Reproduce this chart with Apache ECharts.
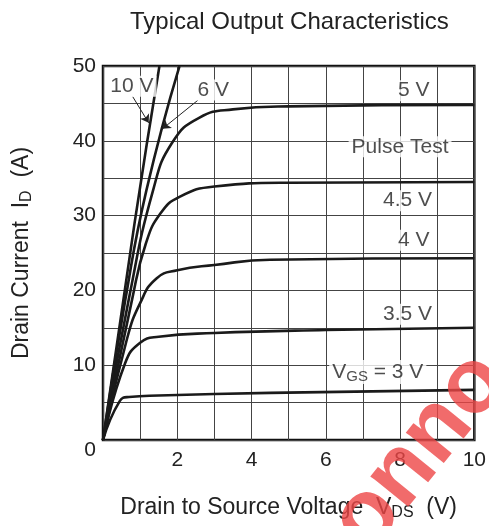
<!DOCTYPE html>
<html>
<head>
<meta charset="utf-8">
<script src="https://cdn.jsdelivr.net/npm/echarts@6/dist/echarts.min.js"></script>
<style>
  html, body { margin: 0; padding: 0; background: #fff; }
  #main { width: 489px; height: 526px; }
</style>
</head>
<body>
<div id="main"></div>
<script>
// VGS curves, [VDS (V), ID (A)]
var vgs3  = [[0,0],[0.45,5.2],[0.7,5.75],[1.5,5.95],[4.5,6.3],[10,6.7]];
var vgs35 = [[0,0],[0.59,10.2],[1,13],[1.5,13.8],[3,14.3],[6,14.7],[10,15]];
var vgs4  = [[0,0],[0.64,13.4],[1,18.3],[1.44,21.6],[2,22.7],[3,23.4],[4.5,24.1],[10,24.3]];
var vgs45 = [[0,0],[0.78,18.7],[1.15,26.2],[1.55,30.3],[2.06,32.5],[3,33.9],[5,34.4],[10,34.5]];
var vgs5  = [[0,0],[0.69,18.7],[1.35,33.4],[1.87,39.8],[2.6,43.1],[3.5,44.2],[5,44.6],[10,44.8]];
var vgs6  = [[0,0],[0.6,18.7],[1.17,33.4],[2.06,50]];
var vgs10 = [[0,0],[0.85,29],[1.52,50]];

// curve labels
var labelText = ['10 V', '6 V', '5 V', 'Pulse Test', '4.5 V', '4 V', '3.5 V', '{v|V}{s|GS}{v| = 3 V}'];
var labelX    = [0.78, 2.97, 8.37, 8.0, 8.2, 8.37, 8.2, 7.4];
var labelY    = [47.3, 46.8, 46.7, 39.2, 32.0, 26.7, 16.8, 9.1];

// leader arrows [from, to]
var arrows = [[[0.8, 45.9], [1.23, 42.4]], [[2.55, 45.4], [1.6, 41.6]]];

var FONT = 'Liberation Sans, Arial, sans-serif';
var curves = [vgs3, vgs35, vgs4, vgs45, vgs5, vgs6, vgs10];

var chart = echarts.init(document.getElementById('main'));

var series = curves.map(function (d) {
    return {
        type: 'line',
        data: d,
        showSymbol: false,
        smooth: 0.5,
        lineStyle: {color: '#1a1a1a', width: 2.6},
        z: 3
    };
});

series.push({
    type: 'scatter',
    symbolSize: 0,
    z: 5,
    data: labelText.map(function (t, i) { return {name: t, value: [labelX[i], labelY[i]]}; }),
    label: {
        show: true,
        position: 'inside',
        formatter: function (p) { return p.name; },
        fontFamily: FONT,
        fontSize: 21,
        color: '#222',
        backgroundColor: '#fff',
        padding: [0, 3],
        rich: {
            v: {fontFamily: FONT, fontSize: 21, color: '#222'},
            s: {fontFamily: FONT, fontSize: 15, color: '#222', padding: [9, 0, 0, 0]}
        }
    },
    markLine: {
        silent: true,
        symbol: ['none', 'arrow'],
        symbolSize: 8,
        label: {show: false},
        lineStyle: {color: '#222', width: 1, type: 'solid'},
        data: arrows.map(function (a) { return [{coord: a[0]}, {coord: a[1]}]; })
    }
});

var option = {
    animation: false,
    title: {
        text: 'Typical Output Characteristics',
        left: 125,
        top: 5,
        textStyle: {fontFamily: FONT, fontSize: 24, fontWeight: 'normal', color: '#222'}
    },
    grid: {
        left: 103, right: 12, top: 66, bottom: 86,
        show: true,
        borderColor: '#111',
        borderWidth: 2.5
    },
    xAxis: {
        type: 'value',
        min: 0, max: 10, interval: 1,
        name: 'Drain to Source Voltage  V{s|DS}  (V)',
        nameLocation: 'middle',
        nameGap: 55,
        nameTextStyle: {
            fontFamily: FONT, fontSize: 23, color: '#222',
            rich: {s: {fontFamily: FONT, fontSize: 16, color: '#222', padding: [10, 0, 0, 0]}}
        },
        axisLine: {show: false},
        axisTick: {show: false},
        axisLabel: {
            fontFamily: FONT, fontSize: 21, color: '#222', margin: 10,
            formatter: function (v) { return (v > 0 && v % 2 === 0) ? String(v) : ''; }
        },
        splitLine: {show: true, lineStyle: {color: '#444', width: 1}}
    },
    yAxis: {
        type: 'value',
        min: 0, max: 50, interval: 5,
        name: 'Drain Current  I{s|D}  (A)',
        nameLocation: 'middle',
        nameGap: 68,
        nameTextStyle: {
            fontFamily: FONT, fontSize: 23, color: '#222',
            rich: {s: {fontFamily: FONT, fontSize: 16, color: '#222', padding: [10, 0, 0, 0]}}
        },
        axisLine: {show: false},
        axisTick: {show: false},
        axisLabel: {
            fontFamily: FONT, fontSize: 21, color: '#222', margin: 7,
            verticalAlignMinLabel: 'top',
            formatter: function (v) { return v % 10 === 0 ? String(v) : ''; }
        },
        splitLine: {show: true, lineStyle: {color: '#444', width: 1}}
    },
    graphic: [{
        type: 'text',
        x: 420, y: 452,
        rotation: 51 * Math.PI / 180,
        z: 100,
        style: {
            text: 'onno',
            font: 'bold 92px ' + FONT,
            fill: 'rgba(238,70,70,0.8)',
            textAlign: 'center',
            textVerticalAlign: 'middle'
        }
    }],
    series: series
};

chart.setOption(option);
</script>
</body>
</html>
